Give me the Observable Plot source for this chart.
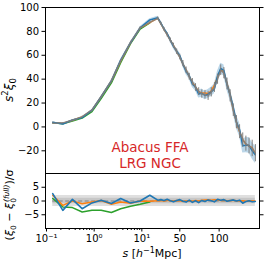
<!DOCTYPE html>
<html><head><meta charset="utf-8">
<script src="https://cdn.jsdelivr.net/npm/d3@7"></script>
<script src="https://cdn.jsdelivr.net/npm/@observablehq/plot@0.6"></script>
<style>
body{margin:0;background:#fff;}
#chart{width:266px;height:266px;position:relative;font-family:"DejaVu Sans",sans-serif;}
#chart svg{display:block;}
</style></head><body><div id="chart"></div>
<script>
// ---- data ----
const sBins = [0.135,0.22,0.35,0.56,0.9,1.4,2.3,3.6,5.8,9.2,14.7,
  22,26,30,34,38,42,46,50,54,58,62,66,70,74,78,82,86,90,94,98,102,106,110,114,118,122,126,130,134,138,142,146];
const xiFull = [3.1,3.4,5.6,8.6,14.2,25.2,39,55.5,71,83,87.5,
  91,86.3,81.7,77,72.5,68,63,58.5,53,47.5,42,37.5,33,29.5,27.5,27,26,29,33,40,47.5,45,36,26,14,4,-4,-11,-14,-16,-18,-22];
const sigma = [0.3,0.3,0.3,0.3,0.35,0.4,0.5,0.6,0.7,0.8,1.0,
  1.2,1.4,1.6,1.8,2.0,2.1,2.3,2.4,2.6,2.7,2.9,3.0,3.2,3.3,3.5,3.6,3.8,3.9,4.1,4.3,4.5,4.7,4.9,5.1,5.3,5.5,5.8,6.0,6.3,6.6,6.9,7.2];
const xiBlue = [3.9,2.4,5.8,7.8,14,25.3,38.5,56,70.5,83,89.6,
  91.4,87,82,78.1,72.7,67.4,63.5,59.7,52.7,46.4,42.9,36,33.3,27.5,28.2,26.3,27.5,29.4,31.8,42.6,48.9,47.4,35.5,27,16.1,4,-2.3,-15.8,-15.3,-15.4,-20,-23.4];
const xiOrange = [3.7,2.9,5.6,8.3,14.1,25.3,38.4,55.3,70.4,83,87.4,
  91.1,86.6,81.7,77.5,72.7,68,63.5,58.7,52.5,47.5,42.3,37.2,33.6,29.5,28.5,28.4,27.9,30.2,35,41.7,48,45.9,36.5,27,14.5,4.1,-4,-10.4,-14.6,-16,-17.3,-22.7];
const xiGreen = [3.4,2.7,4.9,7.4,12.8,23.8,36.9,53.8,69.7,82,87.1];
const resBlue = [2.7,-3.4,0.6,-2.8,-0.7,0.3,-0.9,0.9,-0.7,0,2.1,
  0.3,0.5,0.2,0.6,0.1,-0.3,0.2,0.5,-0.1,-0.4,0.3,-0.5,0.1,-0.6,0.2,-0.2,0.4,0.1,-0.3,0.6,0.3,0.5,-0.1,0.2,0.4,0,0.3,-0.8,-0.2,0.1,-0.3,-0.2];
const resOrange = [2.1,-1.6,0,-1,-0.4,0.2,-1.2,-0.4,-0.8,0,-0.1,
  0.1,0.2,0,0.3,0.1,0,0.2,0.1,-0.2,0,0.1,-0.1,0.2,0,0.3,0.4,0.5,0.3,0.5,0.4,0.2,0.3,0.1,0.2,0.3,0.1,0,0.1,-0.1,0,0.1,-0.1];
const resGreen = [0.9,-2.2,-2.4,-4.0,-3.4,-3.4,-4.2,-2.8,-1.9,-1.2,-0.4];
const yTicksMain = [-20,0,20,40,60,80,100];
const yTicksRes = [-5,0,5];
const xMajor = [0.1,1,10,50,100];
const xMajorLabels = ["10⁻¹","10⁰","10¹","50","100"];
const xMinor = [0.2,0.3,0.4,0.5,0.6,0.7,0.8,0.9,2,3,4,5,6,7,8,9];
const sigBands = [2,1];
const titleLines = ["Abacus FFA","LRG NGC"];

// ---- scale helper: log below 20, linear above ----
const K = 0.784/47.5;
const u = s => s <= 20 ? Math.log10(s) : Math.log10(20) + (s - 20) * K;
const xDomain = [u(0.0953), u(151.3)];

const rows = sBins.map((s,i)=>({s, full:xiFull[i], sig:sigma[i], blue:xiBlue[i], orange:xiOrange[i],
  green:xiGreen[i], rb:resBlue[i], ro:resOrange[i], rg:resGreen[i]}));
const rowsG = rows.slice(0, xiGreen.length);
const xs = d => u(d.s);
const fmt = d => d < 0 ? "\u2212" + Math.abs(d) : String(d);
const FONT = "DejaVu Sans, sans-serif";
const C = {blue:"#1f77b4", orange:"#ff7f0e", green:"#2ca02c", gray:"#7f7f7f", red:"#d62728"};

const main = Plot.plot({
  width:266, height:173, marginLeft:45, marginRight:7, marginTop:7, marginBottom:0,
  style:{fontFamily:FONT, fontSize:"10px", background:"white", overflow:"visible", color:"black"},
  x:{type:"linear", domain:xDomain, axis:null},
  y:{domain:[-39,100]},
  marks:[
    Plot.areaY(rows, {x:xs, y1:d=>d.blue-d.sig, y2:d=>d.blue+d.sig, fill:C.blue, fillOpacity:0.3}),
    Plot.lineY(rowsG, {x:xs, y:"green", stroke:C.green, strokeWidth:1.5}),
    Plot.lineY(rows, {x:xs, y:"orange", stroke:C.orange, strokeWidth:1.5}),
    Plot.lineY(rows, {x:xs, y:"blue", stroke:C.blue, strokeWidth:1.5}),
    Plot.ruleX(rows, {x:xs, y1:d=>d.full-d.sig, y2:d=>d.full+d.sig, stroke:C.gray, strokeWidth:1}),
    Plot.lineY(rows, {x:xs, y:"full", stroke:C.gray, strokeWidth:1.5, strokeOpacity:0.85}),
    Plot.axisY(yTicksMain, {anchor:"left", tickSize:3.5, tickPadding:3, tickFormat:fmt, label:null, fontSize:10}),
    Plot.axisY(yTicksMain, {anchor:"right", tickSize:3.5, tickFormat:()=>"", label:null}),
    Plot.frame({stroke:"black", strokeWidth:1}),
    Plot.text([titleLines.join("\n")], {frameAnchor:"bottom", lineAnchor:"bottom", dx:-2.5, dy:-6,
      fill:C.red, fontSize:13.5, lineHeight:1.15, textAnchor:"middle"})
  ]
});

const labelMap = new Map(xMajor.map((s,i)=>[u(s), xMajorLabels[i]]));
const res = Plot.plot({
  width:266, height:93, marginLeft:45, marginRight:7, marginTop:0, marginBottom:38,
  style:{fontFamily:FONT, fontSize:"10px", background:"white", overflow:"visible", color:"black"},
  x:{type:"linear", domain:xDomain},
  y:{domain:[-10,10]},
  marks:[
    ...sigBands.map(b => Plot.areaY([sBins[0], sBins[sBins.length-1]], {x:u, y1:-b, y2:b, fill:"#808080", fillOpacity:0.25})),
    Plot.ruleY([0], {x1:u(sBins[0]), x2:u(sBins[sBins.length-1]), stroke:"#808080", strokeDasharray:"4,2.5", strokeWidth:1}),
    Plot.lineY(rowsG, {x:xs, y:"rg", stroke:C.green, strokeWidth:1.5}),
    Plot.lineY(rows, {x:xs, y:"ro", stroke:C.orange, strokeWidth:1.5}),
    Plot.lineY(rows, {x:xs, y:"rb", stroke:C.blue, strokeWidth:1.6}),
    Plot.axisY(yTicksRes, {anchor:"left", tickSize:3.5, tickPadding:3, tickFormat:fmt, label:null, fontSize:10}),
    Plot.axisY(yTicksRes, {anchor:"right", tickSize:3.5, tickFormat:()=>"", label:null}),
    Plot.axisX(xMajor.map(u), {tickSize:3.5, tickPadding:3, tickFormat:d=>labelMap.get(d), label:null, fontSize:10}),
    Plot.axisX(xMinor.map(u), {tickSize:2, tickFormat:()=>"", label:null}),
    Plot.frame({stroke:"black", strokeWidth:1})
  ]
});

const chart = document.getElementById("chart");
chart.appendChild(main);
chart.appendChild(res);

// axis labels with math formatting
const mSvg = d3.select(main);
const t1 = mSvg.append("text").attr("transform","translate(13,90) rotate(-90)")
  .attr("text-anchor","middle").attr("font-size",12).attr("fill","black");
t1.append("tspan").attr("font-style","italic").text("s");
t1.append("tspan").attr("font-size",8.5).attr("dy",-5).text("2");
t1.append("tspan").attr("font-style","italic").attr("dy",5).text("ξ");
t1.append("tspan").attr("font-size",8.5).attr("dy",2.5).text("0");

const rSvg = d3.select(res);
const t2 = rSvg.append("text").attr("transform","translate(13,32) rotate(-90)")
  .attr("text-anchor","middle").attr("font-size",11).attr("fill","black");
t2.append("tspan").text("(");
t2.append("tspan").attr("font-style","italic").text("ξ");
t2.append("tspan").attr("font-size",7.5).attr("dy",2.5).text("0");
t2.append("tspan").attr("dy",-2.5).text(" − ");
t2.append("tspan").attr("font-style","italic").text("ξ");
t2.append("tspan").attr("font-size",7.5).attr("dy",2.5).text("0");
t2.append("tspan").attr("font-size",7.5).attr("font-style","italic").attr("dy",-7).attr("dx",-4).text("(full)");
t2.append("tspan").attr("dy",4.5).text(")/σ");

const t3 = rSvg.append("text").attr("transform","translate(152,84)")
  .attr("text-anchor","middle").attr("font-size",11).attr("fill","black");
t3.append("tspan").attr("font-style","italic").text("s");
t3.append("tspan").text(" [");
t3.append("tspan").attr("font-style","italic").text("h");
t3.append("tspan").attr("font-size",8).attr("dy",-4).text("−1");
t3.append("tspan").attr("dy",4).text("Mpc]");
</script></body></html>
